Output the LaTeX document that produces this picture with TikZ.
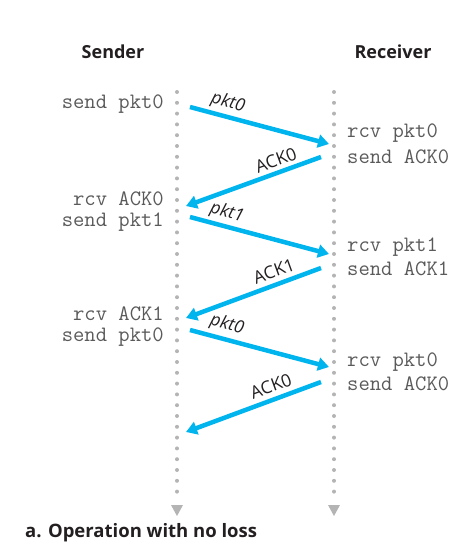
\documentclass[tikz,border=0pt]{standalone}
\usepackage{fontspec}
\setmainfont{Open Sans}
\newfontfamily\sansf{Open Sans}
\usetikzlibrary{arrows.meta}
\definecolor{arrowblue}{HTML}{00B4EE}
\definecolor{dotgray}{HTML}{B4B4B4}
\definecolor{txtgray}{HTML}{5A5A5A}
\definecolor{ink}{HTML}{231F20}
\tikzset{
  lifeline/.style={dotgray, line width=4pt, line cap=round, dash pattern=on 0pt off 10.8pt},
  lifetip/.style={fill=dotgray, draw=none},
  msg/.style={arrowblue, line width=4.5pt, -{Triangle[length=11pt,width=13pt]}},
  evtL/.style={font=\ttfamily\fontsize{22}{24}\selectfont, text=txtgray, anchor=east, inner sep=0pt},
  evtR/.style={font=\ttfamily\fontsize{22}{24}\selectfont, text=txtgray, anchor=west, inner sep=0pt},
  head/.style={font=\sansf\bfseries\fontsize{18}{20}\selectfont, text=ink, inner sep=0pt},
  caplab/.style={font=\sansf\bfseries\fontsize{18.5}{20}\selectfont, text=ink, inner sep=0pt},
  pktlab/.style={font=\sansf\itshape\fontsize{17.5}{19}\selectfont, text=ink, inner sep=0pt},
  acklab/.style={font=\sansf\fontsize{17.5}{19}\selectfont, text=ink, inner sep=0pt},
}
\begin{document}
\begin{tikzpicture}[x=1pt,y=-1pt]
\useasboundingbox (0,0) rectangle (465,555);
% lifelines
\coordinate (sTop) at (177,92);
\coordinate (sBot) at (177,498);
\coordinate (rTop) at (334,92);
\coordinate (rBot) at (334,498);
\draw[lifeline] (sTop) -- (sBot);
\draw[lifeline] (rTop) -- (rBot);
\fill[lifetip] (171,505) -- (183,505) -- (177,516) -- cycle;
\fill[lifetip] (328,505) -- (340,505) -- (334,516) -- cycle;
% headers
\node[head] (hS) at (113,52) {Sender};
\node[head] (hR) at (393,52) {Receiver};
% sender events
\node[evtL] (e1) at (164,104) {send pkt0};
\node[evtL] (e2) at (164,199) {rcv ACK0};
\node[evtL] (e3) at (164,222) {send pkt1};
\node[evtL] (e4) at (164,314) {rcv ACK1};
\node[evtL] (e5) at (164,337) {send pkt0};
% receiver events
\node[evtR] (f1) at (347,133) {rcv pkt0};
\node[evtR] (f2) at (347,157) {send ACK0};
\node[evtR] (f3) at (347,247) {rcv pkt1};
\node[evtR] (f4) at (347,269) {send ACK1};
\node[evtR] (f5) at (347,362) {rcv pkt0};
\node[evtR] (f6) at (347,384) {send ACK0};
% message endpoints
\coordinate (a1) at (190,107); \coordinate (b1) at (329,144);
\coordinate (a2) at (321,157); \coordinate (b2) at (186,206);
\coordinate (a3) at (190,217); \coordinate (b3) at (329,254);
\coordinate (a4) at (321,268); \coordinate (b4) at (186,318);
\coordinate (a5) at (190,330); \coordinate (b5) at (329,367);
\coordinate (a6) at (321,382); \coordinate (b6) at (186,432);
\draw[msg] (a1) -- (b1);
\draw[msg] (a2) -- (b2);
\draw[msg] (a3) -- (b3);
\draw[msg] (a4) -- (b4);
\draw[msg] (a5) -- (b5);
\draw[msg] (a6) -- (b6);
% labels
\node[pktlab, rotate=-15] (l1) at (228,103) {pkt0};
\node[acklab, rotate=20] (l2) at (276,160) {ACK0};
\node[pktlab, rotate=-15] (l3) at (227,213) {pkt1};
\node[acklab, rotate=20] (l4) at (274,271) {ACK1};
\node[pktlab, rotate=-15] (l5) at (227,325) {pkt0};
\node[acklab, rotate=20] (l6) at (271,386) {ACK0};
% caption
\node[caplab, anchor=west] (cap) at (25,533) {a. Operation with no loss};
\end{tikzpicture}
\end{document}
